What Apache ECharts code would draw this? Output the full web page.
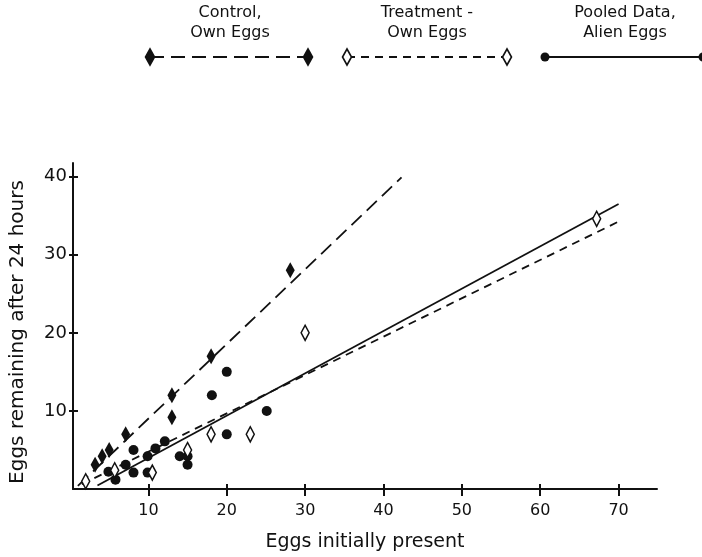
<!DOCTYPE html>
<html><head><meta charset="utf-8">
<script src="https://cdn.jsdelivr.net/npm/echarts@6/dist/echarts.min.js"></script>
<style>html,body{margin:0;padding:0;background:#fff}#c{width:702px;height:557px}</style>
</head><body><div id="c"></div>
<script>
// ---- data ----
const xTicks = [10, 20, 30, 40, 50, 60, 70];
const yTicks = [10, 20, 30, 40];
const controlPoints = [[3.2,3.1],[4.1,4.2],[5,5],[7.1,7],[13,9.2],[13,12],[18,17],[28.1,28]];
const treatmentPoints = [[2,1],[5.7,2.4],[10.5,2.1],[15,5],[18,7],[23,7],[30,20],[67.2,34.6]];
const pooledPoints = [[4.9,2.2],[5.8,1.2],[7.1,3.1],[8.1,5],[8.1,2.1],[9.9,4.2],[9.9,2.1],[10.9,5.2],[12.1,6.1],[14,4.2],[15,4.2],[15,3.1],[18.1,12],[20,15],[20,7],[25.1,10]];
const controlLine = [[1,0.4],[42.3,39.9]];
const treatmentLine = [[1.5,0.6],[70,34.25]];
const pooledLine = [[3.5,0.45],[70,36.5]];
const legendLabels = [["Control,","Own Eggs"],["Treatment -","Own Eggs"],["Pooled Data,","Alien Eggs"]];
const xTitle = "Eggs initially present";
const yTitle = "Eggs remaining after 24 hours";

// ---- styling ----
const FONT = "DejaVu Sans";
const INK = "#111";
const diamondPath = 'path://M0,-10L5,0L0,10L-5,0Z';
// the hand-drawn y axis crosses the x axis slightly right of x = 0
const X_MIN = 0.38, X_MAX = 74.9, Y_MAX = 41.75;

const chart = echarts.init(document.getElementById('c'), null, {renderer:'canvas'});

function diamondPts(cx, cy){ return [[cx,cy-8],[cx+4.5,cy],[cx,cy+8],[cx-4.5,cy]]; }
const legendDefs = [
  {cx:230, x1:150, x2:308, dash:[14,7], kind:'fd'},
  {cx:427, x1:347, x2:507, dash:[8,6], kind:'od'},
  {cx:625, x1:545, x2:703, dash:null, kind:'c'}
];
const LY = 57;
const graphics = [];
legendDefs.forEach((d,i)=>{
  graphics.push({type:'text', x:d.cx, y:13, style:{text:legendLabels[i][0], font:'16px "'+FONT+'"', fill:INK, align:'center', verticalAlign:'middle'}});
  graphics.push({type:'text', x:d.cx, y:33, style:{text:legendLabels[i][1], font:'16px "'+FONT+'"', fill:INK, align:'center', verticalAlign:'middle'}});
  graphics.push({type:'line', shape:{x1:d.x1, y1:LY, x2:d.x2, y2:LY}, style:{stroke:INK, lineWidth:1.8, lineDash:d.dash||null}});
  [d.x1, d.x2].forEach(px=>{
    if (d.kind==='c') graphics.push({type:'circle', shape:{cx:px, cy:LY, r:4.5}, style:{fill:INK}, z:10});
    else graphics.push({type:'polygon', shape:{points:diamondPts(px,LY)}, style:{fill:d.kind==='fd'?INK:'#fff', stroke:INK, lineWidth:1.6}, z:10});
  });
});

const option = {
  animation:false,
  backgroundColor:'#fff',
  grid:{left:68, right:45, top:163, bottom:60, containLabel:false},
  xAxis:[{
    type:'value', min:X_MIN, max:X_MAX, position:'bottom',
    splitLine:{show:false},
    axisLine:{show:true, onZero:false, lineStyle:{color:INK, width:2}},
    axisTick:{show:true, inside:false, length:7, lineStyle:{color:INK, width:2}, customValues:xTicks},
    axisLabel:{margin:14, customValues:xTicks, fontFamily:FONT, fontSize:16, color:INK},
    name:xTitle, nameLocation:'middle', nameGap:44,
    nameTextStyle:{fontFamily:FONT, fontSize:19, color:INK}
  },{
    type:'value', min:X_MIN, max:X_MAX, position:'bottom',
    splitLine:{show:false},
    axisLine:{show:false, onZero:false},
    axisTick:{show:true, inside:true, length:5, lineStyle:{color:INK, width:2}, customValues:xTicks},
    axisLabel:{show:false}
  }],
  yAxis:[{
    type:'value', min:0, max:Y_MAX, position:'left',
    splitLine:{show:false},
    axisLine:{show:true, onZero:false, lineStyle:{color:INK, width:2}},
    axisTick:{show:true, inside:false, length:4, lineStyle:{color:INK, width:2}, customValues:yTicks},
    axisLabel:{margin:6, customValues:yTicks, fontFamily:FONT, fontSize:18, color:INK},
    name:yTitle, nameLocation:'middle', nameGap:45, nameRotate:90,
    nameTextStyle:{fontFamily:FONT, fontSize:20, color:INK, padding:[0,12,0,0]}
  },{
    type:'value', min:0, max:Y_MAX, position:'left',
    splitLine:{show:false},
    axisLine:{show:false, onZero:false},
    axisTick:{show:true, inside:true, length:5, lineStyle:{color:INK, width:2}, customValues:yTicks},
    axisLabel:{show:false}
  }],
  series:[
    {type:'line', data:controlLine, symbol:'none', lineStyle:{color:INK, width:1.8, type:[14,7]}, z:2, silent:true},
    {type:'line', data:treatmentLine, symbol:'none', lineStyle:{color:INK, width:1.8, type:[8,6]}, z:2, silent:true},
    {type:'line', data:pooledLine, symbol:'none', lineStyle:{color:INK, width:1.8, type:'solid'}, z:2, silent:true},
    {type:'scatter', data:pooledPoints, symbol:'circle', symbolSize:10, itemStyle:{color:INK, opacity:1}, z:5},
    {type:'scatter', data:controlPoints, symbol:diamondPath, symbolSize:[9,16], itemStyle:{color:INK, opacity:1}, z:6},
    {type:'scatter', data:treatmentPoints, symbol:diamondPath, symbolSize:[8,15], itemStyle:{color:'#fff', borderColor:INK, borderWidth:1.6, opacity:1}, z:7}
  ],
  graphic:graphics
};
chart.setOption(option);
</script></body></html>
